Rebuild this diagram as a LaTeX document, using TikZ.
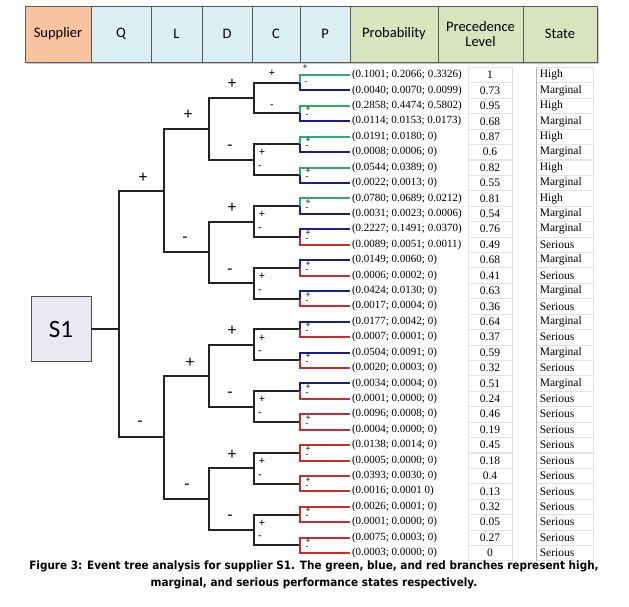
\documentclass[tikz,border=0pt]{standalone}
\usepackage{fontspec}
\usepackage{xcolor}
\usepackage{tikz}
\setmainfont{Liberation Serif}
\newfontfamily\calibri{Carlito}
\newfontfamily\capfont[FakeStretch=0.91]{DejaVu Sans}
\definecolor{supp}{RGB}{248,196,160}
\definecolor{crit}{RGB}{219,238,244}
\definecolor{outc}{RGB}{215,228,190}
\definecolor{sbox}{RGB}{234,233,242}
\definecolor{high}{RGB}{50,170,110}
\definecolor{marg}{RGB}{25,30,145}
\definecolor{seri}{RGB}{200,45,45}
\definecolor{trunk}{RGB}{35,35,35}

\begin{document}
\begin{tikzpicture}[x=1pt, y=-1pt,
  hcell/.style={draw=gray!70!black, line width=0.8pt, minimum height=56, inner sep=0pt, outer sep=0pt, align=center, font=\calibri\fontsize{14.5}{16}\selectfont},
  br/.style={draw=trunk, line width=2pt},
  hib/.style={draw=high, line width=2pt},
  mab/.style={draw=marg, line width=2pt},
  seb/.style={draw=seri, line width=2pt},
  leaf/.style={anchor=west, inner xsep=2pt, inner ysep=0pt, outer sep=0pt, font=\fontsize{11}{12}\selectfont},
  lvl/.style={draw=gray!22, line width=0.6pt, minimum width=44, minimum height=15.42, inner sep=0pt, font=\fontsize{11.5}{12}\selectfont},
  stcell/.style={draw=gray!22, line width=0.6pt, anchor=west, text width=50pt, inner xsep=3.5pt, inner ysep=0pt, minimum height=15.42, align=left, font=\fontsize{11.5}{12}\selectfont},
  sgn/.style={inner sep=0pt, font=\calibri\fontsize{17}{17}\selectfont},
  sgnc/.style={inner sep=0pt, font=\calibri\fontsize{11.5}{12}\selectfont},
  sgnp/.style={inner sep=0pt, font=\calibri\fontsize{9}{9}\selectfont}]
\useasboundingbox (0,0) rectangle (629,607);

% Header
\fill[gray!45] (27,8) rectangle (599,64);
\node[hcell, fill=supp, minimum width=66] (hsup) at (58,34) {Supplier};
\node[hcell, fill=crit, minimum width=60] (hq) at (121,34) {Q};
\node[hcell, fill=crit, minimum width=51] (hl) at (176.5,34) {L};
\node[hcell, fill=crit, minimum width=50] (hd) at (227,34) {D};
\node[hcell, fill=crit, minimum width=48] (hc) at (276,34) {C};
\node[hcell, fill=crit, minimum width=50] (hp) at (325,34) {P};
\node[hcell, fill=outc, minimum width=88] (hprob) at (394,34) {Probability};
\node[hcell, fill=outc, minimum width=85] (hprec) at (480.5,34) {Precedence\\[-1pt]Level};
\node[hcell, fill=outc, minimum width=74] (hstate) at (560,34) {State};

% Supplier
\node[draw=gray!60!black, line width=0.8pt, fill=sbox, minimum width=60, minimum height=65, font=\calibri\fontsize{25}{25}\selectfont] (sup) at (61,329) {S1};

% Points
\coordinate (q) at (119,329);
\coordinate (l1) at (164,190.7);
\coordinate (l2) at (164,437.4);
\coordinate (d1) at (209,129.0);
\coordinate (d2) at (209,252.4);
\coordinate (d3) at (209,375.7);
\coordinate (d4) at (209,499.1);
\coordinate (c1) at (254,98.1);
\coordinate (c2) at (254,159.8);
\coordinate (c3) at (254,221.5);
\coordinate (c4) at (254,283.2);
\coordinate (c5) at (254,344.9);
\coordinate (c6) at (254,406.5);
\coordinate (c7) at (254,468.2);
\coordinate (c8) at (254,529.9);
\coordinate (p1) at (300,82.7);
\coordinate (p2) at (300,113.5);
\coordinate (p3) at (300,144.4);
\coordinate (p4) at (300,175.2);
\coordinate (p5) at (300,206.1);
\coordinate (p6) at (300,236.9);
\coordinate (p7) at (300,267.8);
\coordinate (p8) at (300,298.6);
\coordinate (p9) at (300,329.4);
\coordinate (p10) at (300,360.3);
\coordinate (p11) at (300,391.1);
\coordinate (p12) at (300,422.0);
\coordinate (p13) at (300,452.8);
\coordinate (p14) at (300,483.6);
\coordinate (p15) at (300,514.5);
\coordinate (p16) at (300,545.3);

% Leaves
\node[leaf] (e1) at (350,75.0) {(0.1001; 0.2066; 0.3326)};
\node[leaf] (e2) at (350,90.4) {(0.0040; 0.0070; 0.0099)};
\node[leaf] (e3) at (350,105.8) {(0.2858; 0.4474; 0.5802)};
\node[leaf] (e4) at (350,121.3) {(0.0114; 0.0153; 0.0173)};
\node[leaf] (e5) at (350,136.7) {(0.0191; 0.0180; 0)};
\node[leaf] (e6) at (350,152.1) {(0.0008; 0.0006; 0)};
\node[leaf] (e7) at (350,167.5) {(0.0544; 0.0389; 0)};
\node[leaf] (e8) at (350,182.9) {(0.0022; 0.0013; 0)};
\node[leaf] (e9) at (350,198.4) {(0.0780; 0.0689; 0.0212)};
\node[leaf] (e10) at (350,213.8) {(0.0031; 0.0023; 0.0006)};
\node[leaf] (e11) at (350,229.2) {(0.2227; 0.1491; 0.0370)};
\node[leaf] (e12) at (350,244.6) {(0.0089; 0.0051; 0.0011)};
\node[leaf] (e13) at (350,260.0) {(0.0149; 0.0060; 0)};
\node[leaf] (e14) at (350,275.5) {(0.0006; 0.0002; 0)};
\node[leaf] (e15) at (350,290.9) {(0.0424; 0.0130; 0)};
\node[leaf] (e16) at (350,306.3) {(0.0017; 0.0004; 0)};
\node[leaf] (e17) at (350,321.7) {(0.0177; 0.0042; 0)};
\node[leaf] (e18) at (350,337.1) {(0.0007; 0.0001; 0)};
\node[leaf] (e19) at (350,352.6) {(0.0504; 0.0091; 0)};
\node[leaf] (e20) at (350,368.0) {(0.0020; 0.0003; 0)};
\node[leaf] (e21) at (350,383.4) {(0.0034; 0.0004; 0)};
\node[leaf] (e22) at (350,398.8) {(0.0001; 0.0000; 0)};
\node[leaf] (e23) at (350,414.2) {(0.0096; 0.0008; 0)};
\node[leaf] (e24) at (350,429.7) {(0.0004; 0.0000; 0)};
\node[leaf] (e25) at (350,445.1) {(0.0138; 0.0014; 0)};
\node[leaf] (e26) at (350,460.5) {(0.0005; 0.0000; 0)};
\node[leaf] (e27) at (350,475.9) {(0.0393; 0.0030; 0)};
\node[leaf] (e28) at (350,491.3) {(0.0016; 0.0001 0)};
\node[leaf] (e29) at (350,506.8) {(0.0026; 0.0001; 0)};
\node[leaf] (e30) at (350,522.2) {(0.0001; 0.0000; 0)};
\node[leaf] (e31) at (350,537.6) {(0.0075; 0.0003; 0)};
\node[leaf] (e32) at (350,553.0) {(0.0003; 0.0000; 0)};

% Precedence level
\node[lvl] (v1) at (490,75.0) {1};
\node[lvl] (v2) at (490,90.4) {0.73};
\node[lvl] (v3) at (490,105.8) {0.95};
\node[lvl] (v4) at (490,121.3) {0.68};
\node[lvl] (v5) at (490,136.7) {0.87};
\node[lvl] (v6) at (490,152.1) {0.6};
\node[lvl] (v7) at (490,167.5) {0.82};
\node[lvl] (v8) at (490,182.9) {0.55};
\node[lvl] (v9) at (490,198.4) {0.81};
\node[lvl] (v10) at (490,213.8) {0.54};
\node[lvl] (v11) at (490,229.2) {0.76};
\node[lvl] (v12) at (490,244.6) {0.49};
\node[lvl] (v13) at (490,260.0) {0.68};
\node[lvl] (v14) at (490,275.5) {0.41};
\node[lvl] (v15) at (490,290.9) {0.63};
\node[lvl] (v16) at (490,306.3) {0.36};
\node[lvl] (v17) at (490,321.7) {0.64};
\node[lvl] (v18) at (490,337.1) {0.37};
\node[lvl] (v19) at (490,352.6) {0.59};
\node[lvl] (v20) at (490,368.0) {0.32};
\node[lvl] (v21) at (490,383.4) {0.51};
\node[lvl] (v22) at (490,398.8) {0.24};
\node[lvl] (v23) at (490,414.2) {0.46};
\node[lvl] (v24) at (490,429.7) {0.19};
\node[lvl] (v25) at (490,445.1) {0.45};
\node[lvl] (v26) at (490,460.5) {0.18};
\node[lvl] (v27) at (490,475.9) {0.4};
\node[lvl] (v28) at (490,491.3) {0.13};
\node[lvl] (v29) at (490,506.8) {0.32};
\node[lvl] (v30) at (490,522.2) {0.05};
\node[lvl] (v31) at (490,537.6) {0.27};
\node[lvl] (v32) at (490,553.0) {0};

% States
\node[stcell] (st1) at (536,75.0) {High};
\node[stcell] (st2) at (536,90.4) {Marginal};
\node[stcell] (st3) at (536,105.8) {High};
\node[stcell] (st4) at (536,121.3) {Marginal};
\node[stcell] (st5) at (536,136.7) {High};
\node[stcell] (st6) at (536,152.1) {Marginal};
\node[stcell] (st7) at (536,167.5) {High};
\node[stcell] (st8) at (536,182.9) {Marginal};
\node[stcell] (st9) at (536,198.4) {High};
\node[stcell] (st10) at (536,213.8) {Marginal};
\node[stcell] (st11) at (536,229.2) {Marginal};
\node[stcell] (st12) at (536,244.6) {Serious};
\node[stcell] (st13) at (536,260.0) {Marginal};
\node[stcell] (st14) at (536,275.5) {Serious};
\node[stcell] (st15) at (536,290.9) {Marginal};
\node[stcell] (st16) at (536,306.3) {Serious};
\node[stcell] (st17) at (536,321.7) {Marginal};
\node[stcell] (st18) at (536,337.1) {Serious};
\node[stcell] (st19) at (536,352.6) {Marginal};
\node[stcell] (st20) at (536,368.0) {Serious};
\node[stcell] (st21) at (536,383.4) {Marginal};
\node[stcell] (st22) at (536,398.8) {Serious};
\node[stcell] (st23) at (536,414.2) {Serious};
\node[stcell] (st24) at (536,429.7) {Serious};
\node[stcell] (st25) at (536,445.1) {Serious};
\node[stcell] (st26) at (536,460.5) {Serious};
\node[stcell] (st27) at (536,475.9) {Serious};
\node[stcell] (st28) at (536,491.3) {Serious};
\node[stcell] (st29) at (536,506.8) {Serious};
\node[stcell] (st30) at (536,522.2) {Serious};
\node[stcell] (st31) at (536,537.6) {Serious};
\node[stcell] (st32) at (536,553.0) {Serious};
\draw[gray!60, line width=0.6pt] (st1.north west) -- (st32.south west);

%Lines
\draw[br] (sup) -- (q);
\draw[br] (q) |- (l1);
\draw[br] (q) |- (l2);
\draw[br] (l1) |- (d1);
\draw[br] (l1) |- (d2);
\draw[br] (l2) |- (d3);
\draw[br] (l2) |- (d4);
\draw[br] (d1) |- (c1);
\draw[br] (d1) |- (c2);
\draw[br] (d2) |- (c3);
\draw[br] (d2) |- (c4);
\draw[br] (d3) |- (c5);
\draw[br] (d3) |- (c6);
\draw[br] (d4) |- (c7);
\draw[br] (d4) |- (c8);
\draw[br] (c1) |- (p1);
\draw[br] (c1) |- (p2);
\draw[br] (c2) |- (p3);
\draw[br] (c2) |- (p4);
\draw[br] (c3) |- (p5);
\draw[br] (c3) |- (p6);
\draw[br] (c4) |- (p7);
\draw[br] (c4) |- (p8);
\draw[br] (c5) |- (p9);
\draw[br] (c5) |- (p10);
\draw[br] (c6) |- (p11);
\draw[br] (c6) |- (p12);
\draw[br] (c7) |- (p13);
\draw[br] (c7) |- (p14);
\draw[br] (c8) |- (p15);
\draw[br] (c8) |- (p16);

%Branches
\draw[hib] (p1) |- (e1.west);
\draw[mab] (p1) |- (e2.west);
\draw[hib] (p2) |- (e3.west);
\draw[mab] (p2) |- (e4.west);
\draw[hib] (p3) |- (e5.west);
\draw[mab] (p3) |- (e6.west);
\draw[hib] (p4) |- (e7.west);
\draw[mab] (p4) |- (e8.west);
\draw[hib] (p5) |- (e9.west);
\draw[mab] (p5) |- (e10.west);
\draw[mab] (p6) |- (e11.west);
\draw[seb] (p6) |- (e12.west);
\draw[mab] (p7) |- (e13.west);
\draw[seb] (p7) |- (e14.west);
\draw[mab] (p8) |- (e15.west);
\draw[seb] (p8) |- (e16.west);
\draw[mab] (p9) |- (e17.west);
\draw[seb] (p9) |- (e18.west);
\draw[mab] (p10) |- (e19.west);
\draw[seb] (p10) |- (e20.west);
\draw[mab] (p11) |- (e21.west);
\draw[seb] (p11) |- (e22.west);
\draw[seb] (p12) |- (e23.west);
\draw[seb] (p12) |- (e24.west);
\draw[seb] (p13) |- (e25.west);
\draw[seb] (p13) |- (e26.west);
\draw[seb] (p14) |- (e27.west);
\draw[seb] (p14) |- (e28.west);
\draw[seb] (p15) |- (e29.west);
\draw[seb] (p15) |- (e30.west);
\draw[seb] (p16) |- (e31.west);
\draw[seb] (p16) |- (e32.west);

%Signs
\node[sgn] (sq1) at (143,178) {+};
\node[sgn] (sq2) at (140,424) {-};
\node[sgn] (sl1) at (188,115) {+};
\node[sgn] (sl2) at (185,240) {-};
\node[sgn] (sl3) at (190,363) {+};
\node[sgn] (sl4) at (187,487) {-};
\node[sgn] (sd1) at (232,84) {+};
\node[sgn] (sd2) at (230,148) {-};
\node[sgn] (sd3) at (232,208) {+};
\node[sgn] (sd4) at (230,272) {-};
\node[sgn] (sd5) at (232,331) {+};
\node[sgn] (sd6) at (230,395) {-};
\node[sgn] (sd7) at (232,455) {+};
\node[sgn] (sd8) at (230,518) {-};
\node[sgnc] (sc1) at (272,73) {+};
\node[sgnc] (sc2) at (272,107) {-};
\node[sgnc] (sc3) at (262,152.8) {+};
\node[sgnc] (sc4) at (260,167.8) {-};
\node[sgnc] (sc5) at (262,214.5) {+};
\node[sgnc] (sc6) at (260,229.5) {-};
\node[sgnc] (sc7) at (262,276.2) {+};
\node[sgnc] (sc8) at (260,291.2) {-};
\node[sgnc] (sc9) at (262,337.9) {+};
\node[sgnc] (sc10) at (260,352.9) {-};
\node[sgnc] (sc11) at (262,399.5) {+};
\node[sgnc] (sc12) at (260,414.5) {-};
\node[sgnc] (sc13) at (262,461.2) {+};
\node[sgnc] (sc14) at (260,476.2) {-};
\node[sgnc] (sc15) at (262,522.9) {+};
\node[sgnc] (sc16) at (260,537.9) {-};
\node[sgnp] (sp1) at (305,67) {+};
\node[sgnp] (sp2) at (306,83) {-};
\node[sgnp] (sp3) at (308,109.5) {+};
\node[sgnp] (sp4) at (307,116.5) {-};
\node[sgnp] (sp5) at (308,140.4) {+};
\node[sgnp] (sp6) at (307,147.4) {-};
\node[sgnp] (sp7) at (308,171.2) {+};
\node[sgnp] (sp8) at (307,178.2) {-};
\node[sgnp] (sp9) at (308,202.1) {+};
\node[sgnp] (sp10) at (307,209.1) {-};
\node[sgnp] (sp11) at (308,232.9) {+};
\node[sgnp] (sp12) at (307,239.9) {-};
\node[sgnp] (sp13) at (308,263.8) {+};
\node[sgnp] (sp14) at (307,270.8) {-};
\node[sgnp] (sp15) at (308,294.6) {+};
\node[sgnp] (sp16) at (307,301.6) {-};
\node[sgnp] (sp17) at (308,325.4) {+};
\node[sgnp] (sp18) at (307,332.4) {-};
\node[sgnp] (sp19) at (308,356.3) {+};
\node[sgnp] (sp20) at (307,363.3) {-};
\node[sgnp] (sp21) at (308,387.1) {+};
\node[sgnp] (sp22) at (307,394.1) {-};
\node[sgnp] (sp23) at (308,418.0) {+};
\node[sgnp] (sp24) at (307,425.0) {-};
\node[sgnp] (sp25) at (308,448.8) {+};
\node[sgnp] (sp26) at (307,455.8) {-};
\node[sgnp] (sp27) at (308,479.6) {+};
\node[sgnp] (sp28) at (307,486.6) {-};
\node[sgnp] (sp29) at (308,510.5) {+};
\node[sgnp] (sp30) at (307,517.5) {-};
\node[sgnp] (sp31) at (308,541.3) {+};
\node[sgnp] (sp32) at (307,548.3) {-};

% Caption
\node[align=center, inner sep=0pt, font=\capfont\bfseries\fontsize{11.5}{17}\selectfont] (cap) at (314,575) {Figure 3: Event tree analysis for supplier S1. The green, blue, and red branches represent high,\\ marginal, and serious performance states respectively.};
\end{tikzpicture}
\end{document}
